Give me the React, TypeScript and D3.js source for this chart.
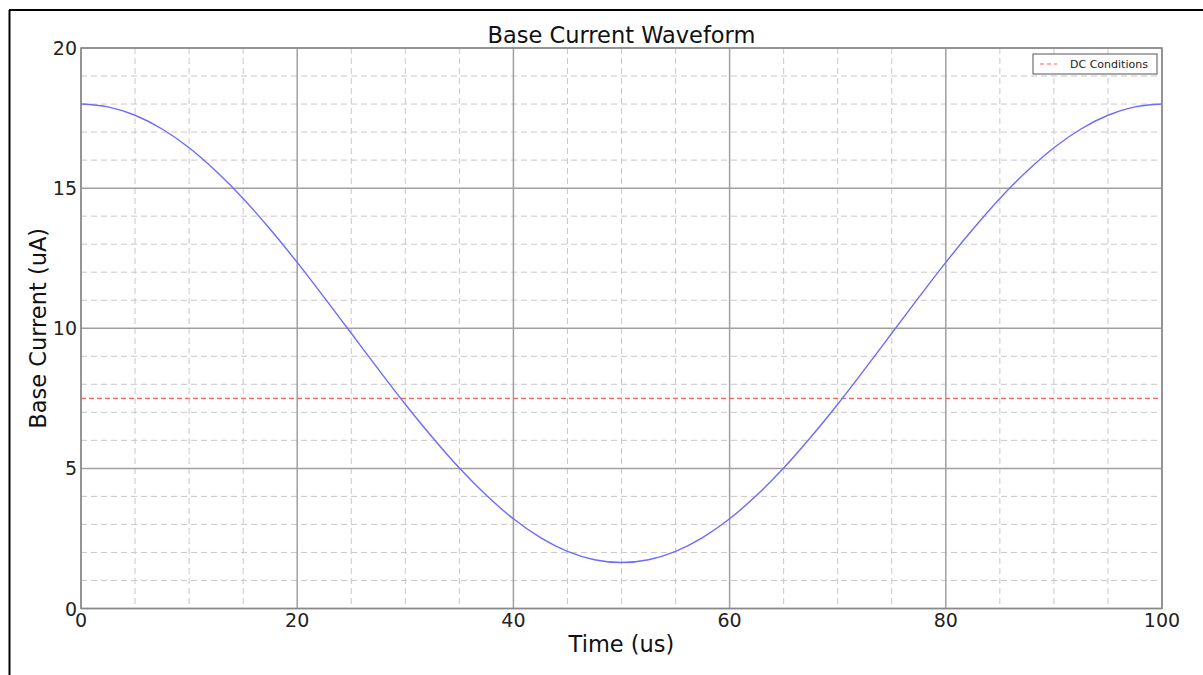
import React from "react";
import * as d3 from "d3";

const timeUs = [0, 2.5, 5, 7.5, 10, 12.5, 15, 17.5, 20, 22.5, 25, 27.5, 30, 32.5, 35, 37.5, 40, 42.5, 45, 47.5, 50,
  52.5, 55, 57.5, 60, 62.5, 65, 67.5, 70, 72.5, 75, 77.5, 80, 82.5, 85, 87.5, 90, 92.5, 95, 97.5, 100];
const baseCurrent = [18.0, 17.9, 17.6, 17.11, 16.44, 15.6, 14.63, 13.53, 12.35, 11.1, 9.82, 8.54, 7.29, 6.11, 5.01, 4.04, 3.2, 2.53, 2.04, 1.74, 1.64,
  1.74, 2.04, 2.53, 3.2, 4.04, 5.01, 6.11, 7.29, 8.54, 9.82, 11.1, 12.35, 13.53, 14.63, 15.6, 16.44, 17.11, 17.6, 17.9, 18.0];
const dcLevel = 7.5;
const xTicks = [0, 20, 40, 60, 80, 100];
const yTicks = [0, 5, 10, 15, 20];
const title = "Base Current Waveform";
const xLabel = "Time (us)";
const yLabel = "Base Current (uA)";
const legendLabel = "DC Conditions";

export default function App() {
  const W = 1203, H = 675;
  const L = 81, R = 1162, T = 48, B = 608.5;
  const x = d3.scaleLinear().domain([0, 100]).range([L, R]);
  const y = d3.scaleLinear().domain([0, 20]).range([B, T]);
  const xMinor = d3.range(0, 101, 5).filter((v) => v % 20 !== 0);
  const yMinor = d3.range(0, 21, 1).filter((v) => v % 5 !== 0);
  const line = d3
    .line<number>()
    .x((_, i) => x(timeUs[i]))
    .y((d) => y(d))
    .curve(d3.curveMonotoneX);
  const font = "'DejaVu Sans', sans-serif";
  return (
    <svg width={W} height={H} style={{ position: "absolute", left: 0, top: 0, background: "#fff" }} fontFamily={font}>
      <rect x={0} y={0} width={W} height={H} fill="#fff" />
      {/* outer frame */}
      <line x1={9.5} y1={10} x2={9.5} y2={H} stroke="#000" strokeWidth={2} />
      <line x1={9} y1={10} x2={W} y2={10} stroke="#000" strokeWidth={2} />
      {/* minor grid */}
      {xMinor.map((v) => (
        <line key={"xm" + v} x1={x(v)} x2={x(v)} y1={T} y2={B} stroke="#c8c8c8" strokeWidth={1} strokeDasharray="6,4" />
      ))}
      {yMinor.map((v) => (
        <line key={"ym" + v} x1={L} x2={R} y1={y(v)} y2={y(v)} stroke="#c8c8c8" strokeWidth={1} strokeDasharray="6,4" />
      ))}
      {/* major grid */}
      {xTicks.map((v) => (
        <line key={"xg" + v} x1={x(v)} x2={x(v)} y1={T} y2={B} stroke="#a0a0a0" strokeWidth={1.5} />
      ))}
      {yTicks.map((v) => (
        <line key={"yg" + v} x1={L} x2={R} y1={y(v)} y2={y(v)} stroke="#a0a0a0" strokeWidth={1.5} />
      ))}
      {/* DC line */}
      <line x1={L} x2={R} y1={y(dcLevel)} y2={y(dcLevel)} stroke="#ff6060" strokeWidth={1.3} strokeDasharray="5,3" />
      {/* waveform */}
      <path d={line(baseCurrent) || ""} fill="none" stroke="#6b6bff" strokeWidth={1.4} />
      {/* axes frame */}
      <rect x={L} y={T} width={R - L} height={B - T} fill="none" stroke="#888" strokeWidth={1.5} />
      {/* tick labels */}
      {xTicks.map((v) => (
        <text key={"xt" + v} x={x(v)} y={627} fontSize={19} textAnchor="middle" fill="#222">{v}</text>
      ))}
      {yTicks.map((v) => (
        <text key={"yt" + v} x={77} y={y(v) + 7} fontSize={19} textAnchor="end" fill="#222">{v}</text>
      ))}
      {/* title and labels */}
      <text x={(L + R) / 2} y={43} fontSize={22.5} textAnchor="middle" fill="#111">{title}</text>
      <text x={(L + R) / 2} y={652} fontSize={22.5} textAnchor="middle" fill="#111">{xLabel}</text>
      <text transform={`translate(46, ${(T + B) / 2}) rotate(-90)`} fontSize={22.5} textAnchor="middle" fill="#111">{yLabel}</text>
      {/* legend */}
      <rect x={1033} y={54} width={124} height={20} fill="#fff" stroke="#555" strokeWidth={1} />
      <line x1={1040} x2={1057} y1={64} y2={64} stroke="#ff6060" strokeWidth={1.2} strokeDasharray="4,3" />
      <text x={1070} y={68} fontSize={11} fill="#222">{legendLabel}</text>
    </svg>
  );
}
